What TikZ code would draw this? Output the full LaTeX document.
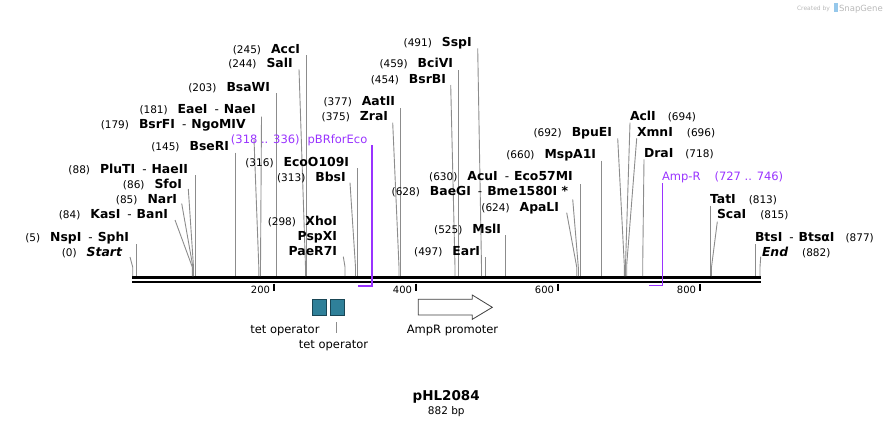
\documentclass[tikz,border=0pt]{standalone}
\usepackage{fontspec}
\setmainfont{DejaVu Sans}
\definecolor{feat}{RGB}{153,51,255}
\definecolor{leadc}{RGB}{140,140,140}
\definecolor{tetfill}{RGB}{47,128,153}
\definecolor{tetdraw}{RGB}{25,70,85}
\definecolor{wmgray}{RGB}{185,185,185}
\definecolor{wmblue}{RGB}{150,200,235}
\newcommand\nm[1]{{\fontsize{10.5}{12}\selectfont(#1)}}
\newcommand\bn[1]{{\fontsize{12.4}{13}\selectfont\bfseries #1}}
\newcommand\lgap{\hspace{10pt}}
\newcommand\lsep{\hspace{7pt}{\fontsize{12}{13}\selectfont -}\hspace{5pt}}
\begin{document}
\begin{tikzpicture}[x=1pt,y=-1pt,
  lab/.style={inner sep=0pt, outer sep=0pt},
  labL/.style={lab, anchor=base east},
  labR/.style={lab, anchor=base west},
  leader/.style={draw=leadc, line width=0.9pt},
  featline/.style={draw=feat, line width=1.6pt},
  featlab/.style={lab, text=feat, font=\fontsize{11.5}{12}\selectfont},
  bbone/.style={line width=2.6pt, black},
  tick/.style={line width=1.6pt, black},
  ticklab/.style={lab, anchor=base east, font=\fontsize{10}{12}\selectfont},
  tetbox/.style={draw=tetdraw, fill=tetfill, line width=0.8pt},
  botlab/.style={lab, anchor=base, font=\fontsize{11.5}{12}\selectfont}]
\useasboundingbox (0,0) rectangle (893,426);

% watermark
\node[lab, anchor=base east, text=wmgray, font=\fontsize{6}{7}\selectfont] (wm1) at (830,10) {Created by};
\fill[wmblue] (834,3) rectangle (837.5,12);
\node[lab, anchor=base west, text=wmgray, font=\fontsize{8.5}{9}\selectfont] (wm2) at (839,11) {SnapGene};

% backbone
\coordinate (bbL) at (132,277.3);
\coordinate (bbR) at (761,277.3);
\coordinate (bbL2) at (132,281.9);
\coordinate (bbR2) at (761,281.9);
\draw[bbone] (bbL) -- (bbR);
\draw[bbone] (bbL2) -- (bbR2);

% ticks
\foreach \x/\t in {273.7/200, 415.7/400, 557.7/600, 699.7/800}{
  \draw[tick] (\x,283.5) -- (\x,290.5);
  \node[ticklab] (tk\t) at (\x-3.7,293) {\t};
}

% ---------- left-side labels ----------
\node[labL] (Start) at (122,256) {\nm{0}\lgap{\fontsize{12.4}{13}\selectfont\bfseries\itshape Start}};
\coordinate (sStart) at (132.7,276);
\draw[leader] (130,257) -- (132.7,267) -- (sStart);

\node[labL] (NspI) at (129,241) {\nm{5}\lgap\bn{NspI}\lsep\bn{SphI}};
\coordinate (sNspI) at (136.5,276);
\draw[leader] (136.5,244) -- (sNspI);

\node[labL] (KasI) at (168,218) {\nm{84}\lgap\bn{KasI}\lsep\bn{BanI}};
\coordinate (sKasI) at (192.3,276);
\draw[leader] (175,220) -- (192.3,267) -- (sKasI);

\node[labL] (NarI) at (177,203) {\nm{85}\lgap\bn{NarI}};
\coordinate (sNarI) at (192.9,276);
\draw[leader] (181.7,203.5) -- (192.9,267) -- (sNarI);

\node[labL] (SfoI) at (182,188) {\nm{86}\lgap\bn{SfoI}};
\coordinate (sSfoI) at (193.5,276);
\draw[leader] (188.3,189) -- (193.5,267) -- (sSfoI);

\node[labL] (PluTI) at (188,173) {\nm{88}\lgap\bn{PluTI}\lsep\bn{HaeII}};
\coordinate (sPluTI) at (195.3,276);
\draw[leader] (195.3,175) -- (sPluTI);

\node[labL] (BseRI) at (229,150.7) {\nm{145}\lgap\bn{BseRI}};
\coordinate (sBseRI) at (235.7,276);
\draw[leader] (235.7,152.7) -- (sBseRI);

\node[labL] (BsrFI) at (245.7,128) {\nm{179}\lgap\bn{BsrFI}\lsep\bn{NgoMIV}};
\coordinate (sBsrFI) at (258.8,276);
\draw[leader] (254,139.3) -- (258.8,267) -- (sBsrFI);

\node[labL] (EaeI) at (255.7,113) {\nm{181}\lgap\bn{EaeI}\lsep\bn{NaeI}};
\coordinate (sEaeI) at (260.5,276);
\draw[leader] (261.5,116.7) -- (260.5,267) -- (sEaeI);

\node[labL] (BsaWI) at (270,91) {\nm{203}\lgap\bn{BsaWI}};
\coordinate (sBsaWI) at (276,276);
\draw[leader] (276,93.3) -- (sBsaWI);

\node[labL] (SalI) at (292.7,67.3) {\nm{244}\lgap\bn{SalI}};
\coordinate (sSalI) at (305.5,276);
\draw[leader] (299,69.3) -- (305.5,267) -- (sSalI);

\node[labL] (AccI) at (300,53) {\nm{245}\lgap\bn{AccI}};
\coordinate (sAccI) at (306.7,276);
\draw[leader] (306.7,55) -- (sAccI);

\node[labL] (EcoO) at (349,166.3) {\nm{316}\lgap\bn{EcoO109I}};
\coordinate (sEcoO) at (357.3,276);
\draw[leader] (357.3,168.3) -- (sEcoO);

\node[labL] (BbsI) at (345.7,181.3) {\nm{313}\lgap\bn{BbsI}};
\coordinate (sBbsI) at (355.5,276);
\draw[leader] (350,182.7) -- (355.5,267) -- (sBbsI);

\node[labL] (n298) at (296,225) {\nm{298}};
\node[labL] (XhoI) at (337,225) {\bn{XhoI}};
\node[labL] (PspXI) at (337,240.7) {\bn{PspXI}};
\node[labL] (PaeR7I) at (337,255.7) {\bn{PaeR7I}};
\coordinate (sXhoI) at (345,276);
\draw[leader] (343.3,256.7) -- (345,267) -- (sXhoI);

\node[labL] (ZraI) at (388,120) {\nm{375}\lgap\bn{ZraI}};
\coordinate (sZraI) at (399,276);
\draw[leader] (392.7,122.7) -- (399,267) -- (sZraI);

\node[labL] (AatII) at (395,105) {\nm{377}\lgap\bn{AatII}};
\coordinate (sAatII) at (400.7,276);
\draw[leader] (400.7,108.3) -- (sAatII);

\node[labL] (BsrBI) at (446,83) {\nm{454}\lgap\bn{BsrBI}};
\coordinate (sBsrBI) at (455,276);
\draw[leader] (450.7,85) -- (455,267) -- (sBsrBI);

\node[labL] (BciVI) at (453,67.3) {\nm{459}\lgap\bn{BciVI}};
\coordinate (sBciVI) at (458.3,276);
\draw[leader] (458.3,70) -- (sBciVI);

\node[labL] (SspI) at (471.7,46.3) {\nm{491}\lgap\bn{SspI}};
\coordinate (sSspI) at (481.5,276);
\draw[leader] (477.7,48.3) -- (481.5,267) -- (sSspI);

\node[labL] (EarI) at (480,255.7) {\nm{497}\lgap\bn{EarI}};
\coordinate (sEarI) at (485.3,276);
\draw[leader] (485.3,257.3) -- (sEarI);

\node[labL] (MslI) at (501,233.3) {\nm{525}\lgap\bn{MslI}};
\coordinate (sMslI) at (505.3,276);
\draw[leader] (505.3,235) -- (sMslI);

\node[labL] (ApaLI) at (559,211.3) {\nm{624}\lgap\bn{ApaLI}};
\coordinate (sApaLI) at (576.7,276);
\draw[leader] (566.7,212.7) -- (576.7,267) -- (sApaLI);

\node[labL] (BaeGI) at (568,195.7) {\nm{628}\lgap\bn{BaeGI}\lsep\bn{Bme1580I *}};
\coordinate (sBaeGI) at (578.3,276);
\draw[leader] (572.7,199.3) -- (578.3,267) -- (sBaeGI);

\node[labL] (AcuI) at (572.7,180.7) {\nm{630}\lgap\bn{AcuI}\lsep\bn{Eco57MI}};
\coordinate (sAcuI) at (580,276);
\draw[leader] (580,184.3) -- (sAcuI);

\node[labL] (MspA1I) at (596,158) {\nm{660}\lgap\bn{MspA1I}};
\coordinate (sMspA1I) at (601.7,276);
\draw[leader] (601.7,160.7) -- (sMspA1I);

\node[labL] (BpuEI) at (612,136.3) {\nm{692}\lgap\bn{BpuEI}};
\coordinate (sBpuEI) at (624.3,276);
\draw[leader] (617.7,138.3) -- (624.3,265) -- (sBpuEI);

% ---------- right-side labels ----------
\node[labR] (AclI) at (630,120.7) {\bn{AclI}\hspace{12pt}\nm{694}};
\coordinate (sAclI) at (625.5,276);
\draw[leader] (630,122.7) -- (625.5,265) -- (sAclI);

\node[labR] (XmnI) at (637,136.3) {\bn{XmnI}\hspace{14pt}\nm{696}};
\coordinate (sXmnI) at (626.7,276);
\draw[leader] (636.7,138.3) -- (626.7,265) -- (sXmnI);

\node[labR] (DraI) at (644,157.3) {\bn{DraI}\hspace{12pt}\nm{718}};
\coordinate (sDraI) at (642.7,276);
\draw[leader] (644,159.3) -- (642.7,265) -- (sDraI);

\node[labR] (TatI) at (710,203) {\bn{TatI}\hspace{13pt}\nm{813}};
\coordinate (sTatI) at (710.7,276);
\draw[leader] (710.7,205.7) -- (sTatI);

\node[labR] (ScaI) at (717,218) {\bn{ScaI}\hspace{14pt}\nm{815}};
\coordinate (sScaI) at (711.5,276);
\draw[leader] (717.3,221.7) -- (711.5,267) -- (sScaI);

\node[labR] (BtsI) at (755,241.7) {\bn{BtsI}\lsep\bn{BtsαI}\hspace{11pt}\nm{877}};
\coordinate (sBtsI) at (755.7,276);
\draw[leader] (755.7,244) -- (sBtsI);

\node[labR] (End) at (762,256.3) {{\fontsize{12.4}{13}\selectfont\bfseries\itshape End}\hspace{14pt}\nm{882}};
\coordinate (sEnd) at (760,276);
\draw[leader] (760.7,256.7) -- (760,267) -- (sEnd);

% ---------- features (purple) ----------
\node[featlab, anchor=base east] (pBR) at (367.3,143) {(318 .. 336)\hspace{8pt}pBRforEco};
\coordinate (pBRtop) at (371.7,145);
\coordinate (pBRa) at (371.7,285.7);
\coordinate (pBRb) at (358.3,285.7);
\draw[featline] (pBRtop) -- (pBRa) -- (pBRb);

\node[featlab, anchor=base west] (AmpR) at (662,180.7) {Amp-R\hspace{14pt}(727 .. 746)};
\coordinate (AmpRtop) at (662.3,183.3);
\coordinate (AmpRa) at (662.3,285.5);
\coordinate (AmpRb) at (649.3,285.5);
\draw[featline] (AmpRtop) -- (AmpRa) -- (AmpRb);

% ---------- bottom features ----------
\node[tetbox, minimum width=13.7pt, minimum height=16pt, inner sep=0pt, anchor=north west] (tet1) at (312.3,299.3) {};
\node[tetbox, minimum width=13.4pt, minimum height=16pt, inner sep=0pt, anchor=north west] (tet2) at (330.3,299.3) {};
\node[botlab] (tetlab1) at (284.9,333) {tet operator};
\node[botlab] (tetlab2) at (333.5,348.3) {tet operator};
\coordinate (tl2a) at (336.7,322.3);
\coordinate (tl2b) at (336.7,333.3);
\draw[leader] (tl2a) -- (tl2b);

\draw[black!75, line width=0.8pt, fill=white] (418.3,299.3) -- (472.3,299.3) -- (472.3,295) -- (492.3,307.3) -- (472.3,319.3) -- (472.3,315) -- (418.3,315) -- cycle;
\node[botlab] (amplab) at (452.5,333) {AmpR promoter};

% ---------- title ----------
\node[lab, anchor=base, font=\fontsize{13.5}{14}\selectfont\bfseries] (title) at (446.2,400) {pHL2084};
\node[lab, anchor=base, font=\fontsize{10.5}{12}\selectfont] (bp) at (446.3,414) {882 bp};
\end{tikzpicture}
\end{document}
